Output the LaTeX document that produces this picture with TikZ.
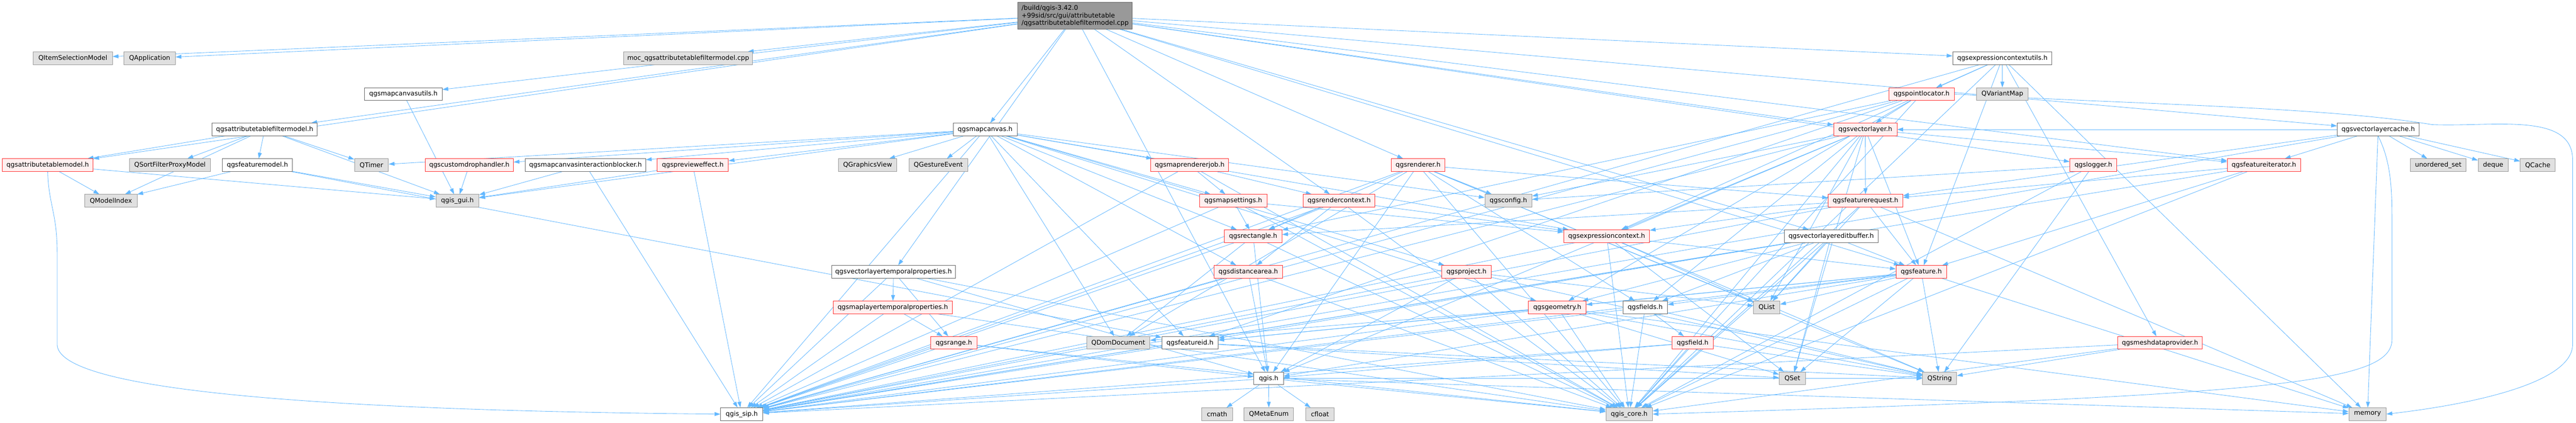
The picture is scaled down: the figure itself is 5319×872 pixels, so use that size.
\documentclass[tikz,border=0pt]{standalone}
\usepackage{fontspec}
\setmainfont{DejaVu Sans}
\usetikzlibrary{arrows.meta}
\pgfdeclarelayer{bglayer}
\pgfdeclarelayer{edgelayer}
\pgfsetlayers{bglayer,edgelayer,main}
\definecolor{edgec}{HTML}{63B8FF}
\definecolor{redfill}{HTML}{FFF0F0}
\definecolor{reddraw}{HTML}{FF3030}
\definecolor{grayfill}{HTML}{E0E0E0}
\definecolor{graydraw}{HTML}{999999}
\definecolor{whitedraw}{HTML}{666666}
\definecolor{mainfill}{HTML}{999999}
\tikzset{
  nbox/.style={rectangle, minimum height=26pt, inner sep=0pt, line width=1pt,
    font=\fontsize{13.33}{15}\selectfont, text=black},
  wn/.style={nbox, draw=whitedraw, fill=white},
  gn/.style={nbox, draw=graydraw, fill=grayfill},
  rn/.style={nbox, draw=reddraw, fill=redfill},
  dep/.style={draw=edgec, line width=0.9pt, -{Triangle[length=12pt,width=8pt]}}
}
\begin{document}
\begin{tikzpicture}[x=1pt,y=-1pt]
\useasboundingbox (0,0) rectangle (5319,872);
\begin{pgfonlayer}{bglayer}
\fill[white] (0,0) rectangle (5319,872);
\end{pgfonlayer}

% main node
\node[nbox, draw=whitedraw, fill=mainfill, minimum width=236pt, minimum height=55pt, align=left] (main) at (2220,32.5)
 {/build/qgis-3.42.0\\+99sid/src/gui/attributetable\\/qgsattributetablefiltermodel.cpp};

% Row A
\node[gn, minimum width=163pt] (QISM) at (150.5,120) {QItemSelectionModel};
\node[gn, minimum width=106pt] (QApp) at (309,120) {QApplication};
\node[gn, minimum width=266pt] (moc) at (1421,120) {moc\_qgsattributetablefiltermodel.cpp};
\node[wn, minimum width=205pt] (ecu) at (4134.5,120) {qgsexpressioncontextutils.h};
% Row B
\node[wn, minimum width=160pt] (mcu) at (833,194) {qgsmapcanvasutils.h};
\node[rn, minimum width=135pt] (pl) at (3967.5,194) {qgspointlocator.h};
\node[gn, minimum width=107pt] (QVM) at (4134.5,194) {QVariantMap};
% Row C
\node[wn, minimum width=217pt] (atfm) at (546.5,267) {qgsattributetablefiltermodel.h};
\node[wn, minimum width=132pt] (mc) at (2034,267) {qgsmapcanvas.h};
\node[rn, minimum width=131pt] (vl) at (3851.5,267) {qgsvectorlayer.h};
\node[wn, minimum width=169pt] (vlc) at (4910.5,267) {qgsvectorlayercache.h};
% Row D
\node[rn, minimum width=187pt] (atm) at (98.5,340.5) {qgsattributetablemodel.h};
\node[gn, minimum width=168pt] (QSFPM) at (351,340.5) {QSortFilterProxyModel};
\node[wn, minimum width=145pt] (fm) at (531.5,340.5) {qgsfeaturemodel.h};
\node[gn, minimum width=70pt] (QTimer) at (767,340.5) {QTimer};
\node[rn, minimum width=182pt] (cdh) at (969,340.5) {qgscustomdrophandler.h};
\node[wn, minimum width=248pt] (mcib) at (1209,340.5) {qgsmapcanvasinteractionblocker.h};
\node[rn, minimum width=147pt] (pe) at (1430.5,340.5) {qgsprevieweffect.h};
\node[gn, minimum width=121pt] (QGV) at (1791.5,340.5) {QGraphicsView};
\node[gn, minimum width=121pt] (QGE) at (1937.5,340.5) {QGestureEvent};
\node[rn, minimum width=161pt] (mrj) at (2456.5,340.5) {qgsmaprendererjob.h};
\node[rn, minimum width=110pt] (rend) at (2928,340.5) {qgsrenderer.h};
\node[rn, minimum width=97pt] (log) at (4322.5,340.5) {qgslogger.h};
\node[rn, minimum width=151pt] (fi) at (4674.5,340.5) {qgsfeatureiterator.h};
\node[gn, minimum width=115pt] (uset) at (5034.5,340.5) {unordered\_set};
\node[gn, minimum width=62pt] (deque) at (5148,340.5) {deque};
\node[gn, minimum width=72pt] (QCache) at (5240,340.5) {QCache};
% Row E
\node[gn, minimum width=108pt] (QMI) at (229,414) {QModelIndex};
\node[gn, minimum width=89pt] (gui) at (944.5,414) {qgis\_gui.h};
\node[rn, minimum width=139pt] (ms) at (2546.5,414) {qgsmapsettings.h};
\node[rn, minimum width=148pt] (rc) at (2765,414) {qgsrendercontext.h};
\node[gn, minimum width=97pt] (cfg) at (3114.5,414) {qgsconfig.h};
\node[rn, minimum width=154pt] (fr) at (3852,414) {qgsfeaturerequest.h};
% Row F
\node[rn, minimum width=119pt] (rect) at (2587.5,487) {qgsrectangle.h};
\node[rn, minimum width=177pt] (ec) at (3317.5,487) {qgsexpressioncontext.h};
\node[wn, minimum width=194pt] (vleb) at (3781,487) {qgsvectorlayereditbuffer.h};
% Row G
\node[wn, minimum width=256pt] (vltp) at (1845,560.5) {qgsvectorlayertemporalproperties.h};
\node[rn, minimum width=141pt] (da) at (2577.5,560.5) {qgsdistancearea.h};
\node[rn, minimum width=102pt] (proj) at (3028,560.5) {qgsproject.h};
\node[rn, minimum width=104pt] (feat) at (3967,560.5) {qgsfeature.h};
% Row H
\node[rn, minimum width=245pt] (mltp) at (1843.5,634) {qgsmaplayertemporalproperties.h};
\node[rn, minimum width=119pt] (geom) at (3215.5,634) {qgsgeometry.h};
\node[wn, minimum width=92pt] (fields) at (3397,634) {qgsfields.h};
\node[gn, minimum width=54pt] (QList) at (3648,634) {QList};
% Row I
\node[rn, minimum width=95pt] (range) at (1969.5,707) {qgsrange.h};
\node[gn, minimum width=130pt] (QDD) at (2309,707) {QDomDocument};
\node[wn, minimum width=116pt] (fid) at (2457,707) {qgsfeatureid.h};
\node[rn, minimum width=86pt] (field) at (3495,707) {qgsfield.h};
\node[rn, minimum width=174pt] (mdp) at (4460,707) {qgsmeshdataprovider.h};
% Row J
\node[wn, minimum width=61pt] (qgis) at (2619.5,780.5) {qgis.h};
\node[gn, minimum width=54pt] (QSet) at (3701,780.5) {QSet};
\node[gn, minimum width=70pt] (QString) at (4005,780.5) {QString};
% Row K
\node[wn, minimum width=87pt] (sip) at (1531.5,854) {qgis\_sip.h};
\node[gn, minimum width=64pt] (cmath) at (2513,854) {cmath};
\node[gn, minimum width=102pt] (QME) at (2620,854) {QMetaEnum};
\node[gn, minimum width=59pt] (cfloat) at (2725.5,854) {cfloat};
\node[gn, minimum width=96pt] (core) at (3364,854) {qgis\_core.h};
\node[gn, minimum width=77pt] (memory) at (4888.5,854) {memory};

\begin{pgfonlayer}{edgelayer}
\foreach \t in {QISM,QApp,moc,atm,atfm,mcu,mc,vltp,qgis,rc,rend,ecu,vl,log,fi,vlc,feat,vleb}{\draw[dep] (main) -- (\t);}
\foreach \t in {QSFPM,QMI,QTimer,atm,fm,gui}{\draw[dep] (atfm) -- (\t);}
\foreach \t in {QMI,gui}{\draw[dep] (atm) -- (\t);}
\draw[dep] (atm.south) .. controls (100,420) and (118,440) .. (118,520) -- (118,710) .. controls (118,800) and (600,846) .. (sip.west);
\foreach \t in {QMI,gui,fid}{\draw[dep] (fm) -- (\t);}
\draw[dep] (mcu) -- (gui);
\foreach \t in {QTimer,gui,cdh,mcib,pe,QGV,QGE,mrj,ms,rect,da,proj,ec,geom,fid,QDD,sip,cfg}{\draw[dep] (mc) -- (\t);}
\draw[dep] (cdh) -- (gui);
\foreach \t in {gui,sip}{\draw[dep] (mcib) -- (\t);}
\foreach \t in {gui,sip}{\draw[dep] (pe) -- (\t);}
\foreach \t in {ms,rc,core,sip}{\draw[dep] (mrj) -- (\t);}
\foreach \t in {rect,core,sip,ec}{\draw[dep] (ms) -- (\t);}
\foreach \t in {rect,da,ec,core,sip}{\draw[dep] (rc) -- (\t);}
\foreach \t in {cfg,core,sip,qgis,rect,fields,fr,QList,QString,QDD}{\draw[dep] (rend) -- (\t);}
\foreach \t in {cfg,core,QString}{\draw[dep] (log) -- (\t);}
\foreach \t in {fr,core,sip,feat}{\draw[dep] (fi) -- (\t);}
\foreach \t in {fi,uset,deque,QCache,vl,fr,sip,memory}{\draw[dep] (vlc) -- (\t);}
\draw[dep] (vlc.south) .. controls (4935,330) and (4939,380) .. (4939,450) -- (4939,700) .. controls (4939,790) and (4700,815) .. (core.east);
\foreach \t in {fr,fi,feat,fields,ec,QSet,QList,sip,core,qgis,cfg}{\draw[dep] (vl) -- (\t);}
\foreach \t in {pl,QVM,ec,feat,mdp,core,sip,memory}{\draw[dep] (ecu) -- (\t);}
\foreach \t in {vl,geom,rect,fid,core,sip}{\draw[dep] (pl) -- (\t);}
\draw[dep] (pl.east) .. controls (4400,215) and (4800,220) .. (5022,257) .. controls (5150,262) and (5312,230) .. (5312,330) -- (5312,710) .. controls (5312,800) and (5050,840) .. (memory.east);
\foreach \t in {QList,memory,core,sip,feat,rect,ec}{\draw[dep] (fr) -- (\t);}
\foreach \t in {core,sip,QList,QSet,geom,feat,fields,fid}{\draw[dep] (vleb) -- (\t);}
\foreach \t in {core,qgis,sip,QList,QSet,fields,fid,geom,memory,QString}{\draw[dep] (feat) -- (\t);}
\foreach \t in {core,sip,feat,QSet,QString,QList}{\draw[dep] (ec) -- (\t);}
\foreach \t in {core,sip,QList,qgis,QString}{\draw[dep] (proj) -- (\t);}
\foreach \t in {QDD,QSet,QString,memory,core,sip,fid}{\draw[dep] (geom) -- (\t);}
\foreach \t in {field,core,sip,QString}{\draw[dep] (fields) -- (\t);}
\foreach \t in {core,sip,QString,qgis}{\draw[dep] (field) -- (\t);}
\foreach \t in {QSet,sip,QString}{\draw[dep] (fid) -- (\t);}
\foreach \t in {qgis,core,sip}{\draw[dep] (range) -- (\t);}
\foreach \t in {range,sip,core}{\draw[dep] (mltp) -- (\t);}
\foreach \t in {mltp,range,sip,core,qgis}{\draw[dep] (vltp) -- (\t);}
\foreach \t in {qgis,core,sip}{\draw[dep] (da) -- (\t);}
\foreach \t in {QDD,qgis,core,sip}{\draw[dep] (rect) -- (\t);}
\foreach \t in {cmath,QME,cfloat,core,sip,memory,QString}{\draw[dep] (qgis) -- (\t);}
\foreach \t in {QString,core,sip}{\draw[dep] (mdp) -- (\t);}
\end{pgfonlayer}
\end{tikzpicture}
\end{document}
